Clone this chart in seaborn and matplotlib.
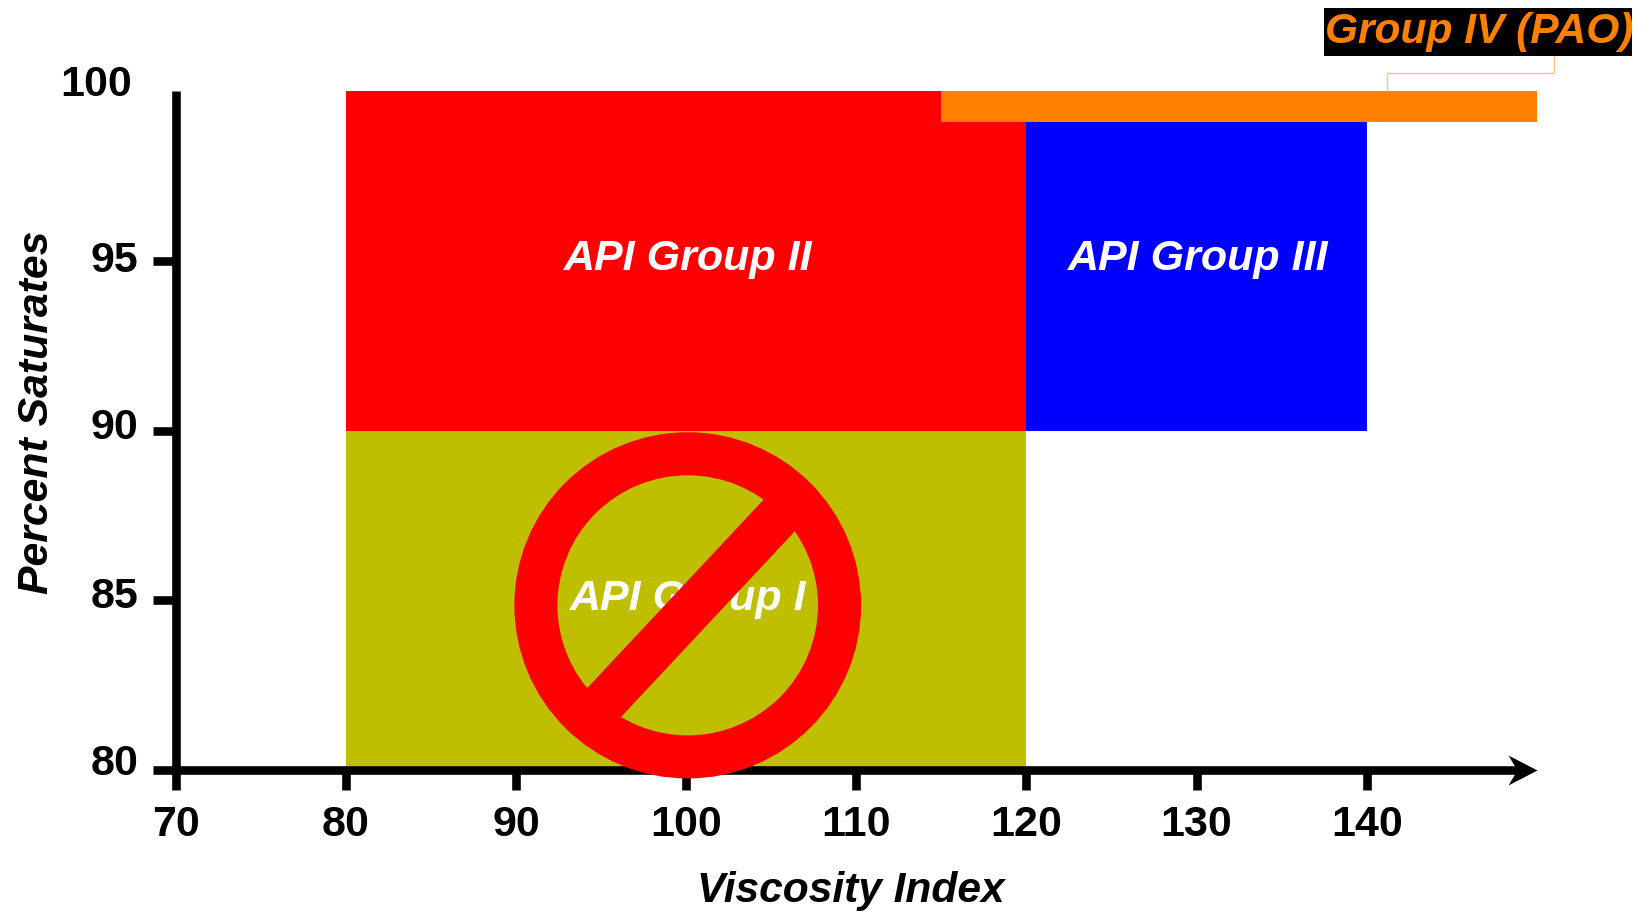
import matplotlib
matplotlib.use("Agg")
import matplotlib.pyplot as plt
from matplotlib.patches import Ellipse
from matplotlib.path import Path
from matplotlib.transforms import ScaledTranslation
import pandas as pd
import seaborn as sns

sns.set_theme(style="white")
plt.rcParams["font.family"] = ["Liberation Sans", "DejaVu Sans"]

# grupos API: limites de cada rectangulo
groups = ["API Group I", "API Group II", "API Group III", "Group IV (PAO)"]
vi_start = [80, 80, 120, 115]
vi_end = [120, 120, 140, 150]
sat_start = [80, 90, 90, 99.1]
sat_end = [90, 100, 99.1, 100]
colors = ["#BFBF00", "#FF0000", "#0000FF", "#FF8000"]

label_x = [100.1, 100.1, 130.1]
label_y = [85.08, 95.08, 95.08]

x_ticks = [70, 80, 90, 100, 110, 120, 130, 140]
y_ticks = [80, 85, 90, 95]
y_top_label = "100"  # este no tiene marca en el eje

# simbolo de prohibido sobre el grupo I
ring_center = (100.09, 84.85)
ring_size = (17.85, 8.93)
slash = pd.DataFrame({"x": [94.38, 106.24], "y": [81.56, 87.91]})

# caja y linea guia del Group IV
box_x = [137.5, 155.6]
box_y = [101.03, 102.44]
leader = pd.DataFrame({"x": [151, 151, 141.2, 141.2], "y": [101.03, 100.53, 100.53, 100]})

fig = plt.figure(figsize=(16.51, 9.12), dpi=100)
ax = fig.add_axes([175.8 / 1651, 1 - 771 / 912, 1361 / 1651, 679 / 912])

ax.bar(vi_start, [e - s for s, e in zip(sat_start, sat_end)], bottom=sat_start,
       width=[e - s for s, e in zip(vi_start, vi_end)], color=colors, align="edge",
       linewidth=0, zorder=1)

for name, x, y in zip(groups, label_x, label_y):
    ax.text(x, y, name, color="white", fontsize=31, fontweight="bold", style="italic",
            ha="center", va="center", zorder=3)

ax.add_patch(Ellipse(ring_center, ring_size[0], ring_size[1], fill=False, edgecolor="#FF0000",
                     linewidth=31, zorder=5, clip_on=False))
sns.lineplot(data=slash, x="x", y="y", color="#FF0000", linewidth=32, ax=ax, zorder=5,
             solid_capstyle="butt", sort=False, estimator=None)

ax.bar(box_x[0], box_y[1] - box_y[0], bottom=box_y[0], width=box_x[1] - box_x[0], align="edge",
       color="black", linewidth=0, clip_on=False, zorder=6)
ax.text(sum(box_x) / 2 + 0.05, 101.78, groups[3], color="#FF8000", fontsize=30.6, fontweight="bold",
        style="italic", ha="center", va="center", zorder=7, clip_on=False)
sns.lineplot(data=leader, x="x", y="y", color="#FFC080", linewidth=1, ax=ax, zorder=2,
             sort=False, estimator=None).lines[-1].set_clip_on(False)

ax.set_xlim(70, 150)
ax.set_ylim(80, 100)
ax.set_xticks(x_ticks)
ax.set_yticks(y_ticks)
ax.set_xlabel("Viscosity Index", fontsize=30.6, fontweight="bold", style="italic", color="black")
ax.set_ylabel("Percent Saturates", fontsize=30.8, fontweight="bold", style="italic", color="black")
ax.xaxis.set_label_coords(0.496, -0.147)
ax.yaxis.set_label_coords(-0.087, 0.528)
ax.tick_params(axis="x", length=14.4, width=6.2, color="black", labelsize=31, labelcolor="black", pad=10, bottom=True)
ax.tick_params(axis="y", length=16.5, width=6.2, color="black", labelsize=31, labelcolor="black", pad=10.5, left=True)
for lab in ax.get_xticklabels() + ax.get_yticklabels():
    lab.set_fontweight("bold")
# las etiquetas del eje y no estan centradas en su marca
for lab, nudge in zip(ax.get_yticklabels(), [11.4, 9, 8, 5.7]):
    lab.set_transform(lab.get_transform() + ScaledTranslation(0, nudge / 100, fig.dpi_scale_trans))
ax.text(67.45, 100.2, y_top_label, color="black", fontsize=31, fontweight="bold",
        ha="right", va="center", clip_on=False)

sns.despine(ax=ax)
for side in ["left", "bottom"]:
    ax.spines[side].set_linewidth(6.2)
    ax.spines[side].set_color("black")
    ax.spines[side].set_capstyle("butt")
# el eje x termina dentro de la flecha
ax.spines["bottom"].set_bounds(70, 149.2)

arrow = Path([(0, 0), (-29, 15), (-20, 0), (-29, -15), (0, 0)],
             [Path.MOVETO, Path.LINETO, Path.LINETO, Path.LINETO, Path.CLOSEPOLY])
ax.plot([150], [80], marker=arrow, markersize=41.8, color="black", markeredgewidth=0,
        clip_on=False, zorder=4)

fig.savefig("out.png", dpi=100)
